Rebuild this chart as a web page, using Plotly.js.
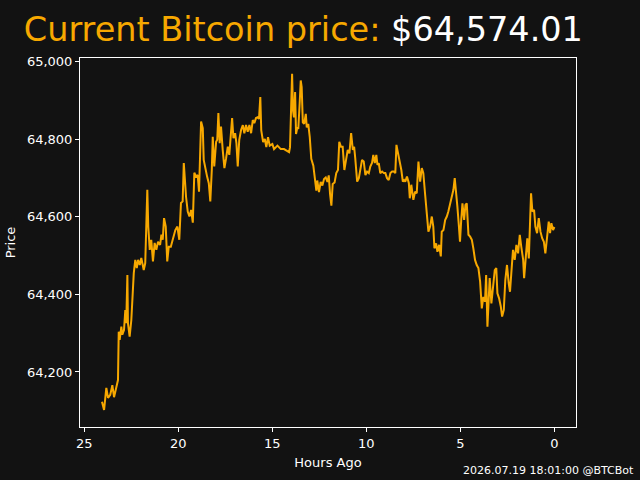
<!DOCTYPE html>
<html>
<head>
<meta charset="utf-8">
<script src="https://cdn.plot.ly/plotly-3.0.1.min.js"></script>
<style>
  html, body { margin: 0; padding: 0; background: #121212; }
  #chart { width: 640px; height: 480px; }
</style>
</head>
<body>
<div id="chart"></div>
<script>
// Bitcoin price over the last 24 hours (hours ago, USD)
const hoursAgo = [
  24.06, 23.95, 23.83, 23.74, 23.62, 23.51, 23.42, 23.30, 23.21, 23.17,
  23.12, 23.03, 22.98, 22.89, 22.82, 22.77, 22.71, 22.68, 22.59, 22.50,
  22.43, 22.37, 22.29, 22.21, 22.14, 22.05, 21.97, 21.84, 21.76, 21.70,
  21.65, 21.60, 21.52, 21.44, 21.35, 21.26, 21.17, 21.08, 20.97, 20.90,
  20.83, 20.76, 20.67, 20.59, 20.51, 20.40, 20.28, 20.16, 20.05, 19.95,
  19.86, 19.77, 19.71, 19.66, 19.59, 19.50, 19.41, 19.32, 19.23, 19.15,
  19.06, 18.97, 18.90, 18.79, 18.70, 18.65, 18.56, 18.47, 18.38, 18.30,
  18.22, 18.17, 18.09, 17.99, 17.93, 17.87, 17.80, 17.73, 17.64, 17.55,
  17.46, 17.37, 17.29, 17.20, 17.14, 17.07, 16.98, 16.91, 16.84, 16.76,
  16.66, 16.57, 16.49, 16.40, 16.31, 16.22, 16.13, 16.04, 15.96, 15.87,
  15.78, 15.71, 15.64, 15.59, 15.49, 15.40, 15.32, 15.23, 15.14, 15.00,
  14.91, 14.73, 14.55, 14.38, 14.23, 14.11, 14.06, 14.02, 13.95, 13.90,
  13.85, 13.79, 13.74, 13.67, 13.62, 13.54, 13.49, 13.44, 13.38, 13.31,
  13.22, 13.17, 13.09, 13.01, 12.93, 12.82, 12.73, 12.66, 12.61, 12.52,
  12.43, 12.34, 12.25, 12.16, 12.07, 12.00, 11.93, 11.86, 11.79, 11.69,
  11.60, 11.51, 11.44, 11.35, 11.26, 11.17, 11.08, 10.99, 10.90, 10.81,
  10.72, 10.65, 10.59, 10.49, 10.40, 10.32, 10.23, 10.14, 10.05, 9.96,
  9.87, 9.79, 9.70, 9.63, 9.55, 9.47, 9.41, 9.34, 9.26, 9.16,
  9.07, 8.99, 8.90, 8.81, 8.72, 8.63, 8.54, 8.46, 8.40, 8.35,
  8.28, 8.21, 8.14, 8.06, 7.99, 7.93, 7.84, 7.74, 7.69, 7.61,
  7.50, 7.41, 7.32, 7.23, 7.14, 7.05, 6.97, 6.88, 6.79, 6.70,
  6.61, 6.52, 6.44, 6.38, 6.29, 6.22, 6.13, 6.04, 5.99, 5.90,
  5.81, 5.72, 5.64, 5.55, 5.46, 5.37, 5.30, 5.23, 5.16, 5.09,
  5.02, 4.96, 4.89, 4.80, 4.73, 4.66, 4.57, 4.48, 4.39, 4.31,
  4.22, 4.13, 4.04, 3.95, 3.86, 3.78, 3.69, 3.63, 3.56, 3.49,
  3.44, 3.35, 3.26, 3.17, 3.09, 3.03, 2.94, 2.85, 2.78, 2.69,
  2.61, 2.52, 2.43, 2.36, 2.29, 2.20, 2.11, 2.02, 1.93, 1.84,
  1.76, 1.66, 1.61, 1.52, 1.44, 1.36, 1.29, 1.24, 1.17, 1.08,
  1.01, 0.92, 0.83, 0.74, 0.65, 0.56, 0.48, 0.39, 0.30, 0.23,
  0.16, 0.07, 0.00
];

const price = [
  64123, 64102, 64159, 64133, 64141, 64166, 64135, 64161, 64179, 64304,
  64283, 64317, 64296, 64308, 64360, 64326, 64450, 64326, 64291, 64334,
  64412, 64455, 64489, 64468, 64489, 64476, 64494, 64463, 64481, 64566,
  64670, 64575, 64515, 64541, 64485, 64533, 64515, 64536, 64528, 64554,
  64541, 64597, 64575, 64485, 64523, 64523, 64546, 64566, 64575, 64541,
  64636, 64640, 64739, 64695, 64652, 64614, 64601, 64618, 64585, 64714,
  64704, 64708, 64665, 64846, 64829, 64747, 64721, 64704, 64687, 64640,
  64721, 64807, 64730, 64794, 64799, 64868, 64790, 64833, 64773, 64726,
  64751, 64781, 64760, 64816, 64855, 64803, 64816, 64790, 64730, 64799,
  64825, 64837, 64816, 64837, 64820, 64837, 64816, 64850, 64842, 64855,
  64857, 64853, 64909, 64823, 64793, 64801, 64780, 64806, 64784, 64788,
  64775, 64784, 64775, 64775, 64771, 64767, 64780, 64840, 64969, 64874,
  64857, 64922, 64814, 64831, 64827, 64900, 64952, 64935, 64844, 64840,
  64866, 64831, 64840, 64806, 64750, 64732, 64694, 64668, 64694, 64664,
  64690, 64681, 64698, 64702, 64690, 64707, 64659, 64629, 64685, 64689,
  64713, 64721, 64794, 64781, 64781, 64721, 64747, 64773, 64764, 64816,
  64773, 64781, 64751, 64691, 64700, 64721, 64747, 64743, 64708, 64717,
  64713, 64730, 64739, 64760, 64739, 64760, 64734, 64739, 64713, 64717,
  64713, 64713, 64700, 64695, 64713, 64717, 64717, 64713, 64786, 64773,
  64756, 64730, 64721, 64691, 64695, 64691, 64704, 64687, 64648, 64683,
  64644, 64665, 64661, 64743, 64691, 64726, 64713, 64661, 64618, 64562,
  64575, 64601, 64575, 64519, 64532, 64510, 64528, 64498, 64562, 64566,
  64592, 64601, 64614, 64635, 64652, 64670, 64700, 64670, 64627, 64584,
  64536, 64588, 64635, 64592, 64631, 64635, 64554, 64549, 64541, 64519,
  64489, 64476, 64468, 64433, 64364, 64394, 64381, 64450, 64317, 64390,
  64442, 64377, 64416, 64463, 64468, 64403, 64390, 64369, 64343, 64360,
  64437, 64476, 64429, 64407, 64455, 64515, 64489, 64528, 64506, 64554,
  64523, 64489, 64442, 64498, 64545, 64493, 64601, 64661, 64614, 64618,
  64575, 64558, 64597, 64562, 64545, 64536, 64506, 64549, 64588, 64558,
  64584, 64566, 64574.01
];

const xTicks = [25, 20, 15, 10, 5, 0];
const yTicks = [64200, 64400, 64600, 64800, 65000];
const currentPrice = price[price.length - 1];
const stampText = '2026.07.19 18:01:00 @BTCBot';

const orange = '#F7A800';
const bg = '#121212';
const fg = '#FFFFFF';
const font = 'DejaVu Sans, sans-serif';

const fmtUSD = v => '$' + v.toLocaleString('en-US', {minimumFractionDigits: 2, maximumFractionDigits: 2});

const trace = {
  x: hoursAgo,
  y: price,
  type: 'scatter',
  mode: 'lines',
  line: {color: orange, width: 2},
  hoverinfo: 'skip'
};

const layout = {
  width: 640,
  height: 480,
  paper_bgcolor: bg,
  plot_bgcolor: bg,
  margin: {l: 80, r: 64, t: 58, b: 53},
  showlegend: false,
  font: {family: font, color: fg, size: 13},
  title: {
    text: 'Current Bitcoin price: <span style="fill:#FFFFFF">' + fmtUSD(currentPrice) + '</span>',
    font: {family: font, size: 33.5, color: orange},
    xref: 'container', yref: 'container',
    x: 0.474, xanchor: 'center',
    y: 0.94, yanchor: 'middle'
  },
  xaxis: {
    range: [25.23, -1.15],
    tickvals: xTicks,
    ticktext: xTicks.map(String),
    ticks: 'outside', ticklen: 4, tickwidth: 1, tickcolor: fg,
    showline: true, linecolor: fg, linewidth: 1, mirror: true,
    showgrid: false, zeroline: false,
    tickfont: {family: font, size: 13, color: fg},
    title: {text: 'Hours Ago', font: {family: font, size: 13, color: fg}, standoff: 8}
  },
  yaxis: {
    range: [64058, 65010],
    tickvals: yTicks,
    tickformat: ',d',
    ticks: 'outside', ticklen: 4, tickwidth: 1, tickcolor: fg,
    showline: true, linecolor: fg, linewidth: 1, mirror: true,
    showgrid: false, zeroline: false,
    tickfont: {family: font, size: 13, color: fg},
    title: {text: 'Price', font: {family: font, size: 13, color: fg}, standoff: 8}
  },
  annotations: [{
    text: stampText,
    xref: 'paper', yref: 'paper',
    x: 1.12, y: -0.117,
    xanchor: 'right', yanchor: 'middle',
    showarrow: false,
    font: {family: font, size: 11, color: fg}
  }]
};

Plotly.newPlot('chart', [trace], layout, {displayModeBar: false, staticPlot: true});
</script>
</body>
</html>
